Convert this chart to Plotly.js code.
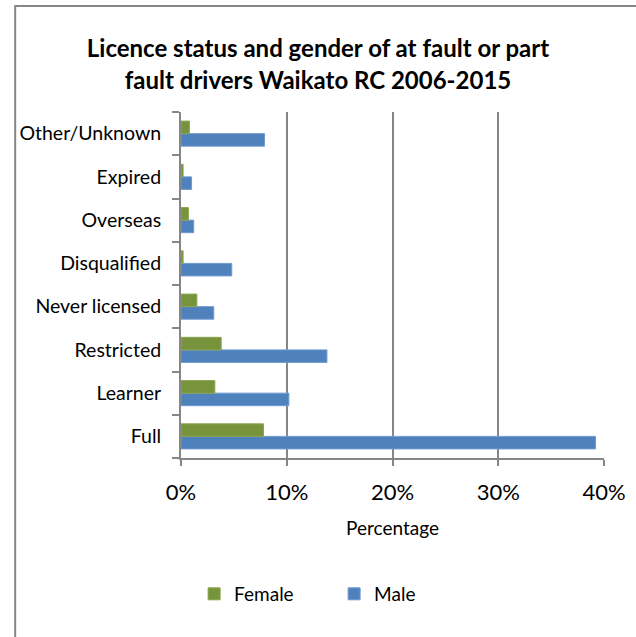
<!DOCTYPE html>
<html>
<head>
<meta charset="utf-8">
<script src="https://cdn.plot.ly/plotly-3.0.1.min.js"></script>
<style>html,body{margin:0;padding:0;background:#fff;}#chart{width:636px;height:637px;}</style>
</head>
<body>
<div id="chart"></div>
<script>
const categories = ["Full", "Learner", "Restricted", "Never licensed", "Disqualified", "Overseas", "Expired", "Other/Unknown"];
const femaleValues = [7.8, 3.2, 3.8, 1.5, 0.2, 0.7, 0.2, 0.8];
const maleValues = [39.2, 10.2, 13.8, 3.1, 4.8, 1.2, 1.0, 7.9];
const xTickVals = [0, 10, 20, 30, 40];
const xTickText = ["0%", "10%", "20%", "30%", "40%"];

const font = "Lato, 'Open Sans', sans-serif";
const grey = "#868686";

const traces = [
  {type: "bar", orientation: "h", name: "Male", y: categories, x: maleValues,
   marker: {color: "#4F81BD", line: {color: "#6f9ad0", width: 1}}, hoverinfo: "x+y"},
  {type: "bar", orientation: "h", name: "Female", y: categories, x: femaleValues,
   marker: {color: "#77933C", line: {color: "#8aa64f", width: 1}}, hoverinfo: "x+y"}
];

const layout = {
  width: 636, height: 637,
  margin: {l: 181, r: 32, t: 112, b: 179},
  paper_bgcolor: "#fff", plot_bgcolor: "#fff",
  font: {family: font, color: "#000"},
  title: {text: "<b>Licence status and gender of at fault or part<br>fault drivers Waikato RC 2006-2015</b>",
          font: {family: font, size: 24, color: "#000"}, x: 0.5, xanchor: "center", y: 0.910, yanchor: "top"},
  barmode: "group", bargap: 0.42, bargroupgap: 0,
  xaxis: {range: [0, 40], tickvals: xTickVals, ticktext: xTickText,
          showgrid: true, gridcolor: grey, gridwidth: 2,
          showline: true, linecolor: grey, linewidth: 2,
          ticks: "outside", ticklen: 6, tickcolor: grey, tickwidth: 2,
          tickfont: {family: font, size: 22, color: "#000"}, ticklabelstandoff: 8,
          zeroline: false, fixedrange: true,
          title: {text: "Percentage", font: {family: font, size: 19, color: "#000"}, standoff: 17}},
  yaxis: {showline: true, linecolor: grey, linewidth: 2,
          ticks: "outside", ticklen: 7, tickcolor: grey, tickwidth: 2, tickson: "boundaries",
          tickfont: {family: font, size: 19.5, color: "#000"}, showgrid: false, fixedrange: true,
          ticklabelstandoff: 14},
  legend: {orientation: "h", x: 0.031, xanchor: "left", y: -0.393, yanchor: "middle",
           traceorder: "reversed", font: {family: font, size: 19, color: "#000"},
           entrywidth: 95, entrywidthmode: "pixels"},
  shapes: [{type: "rect", xref: "paper", yref: "paper", x0: -0.392, x1: 1.2, y0: 1.306, y1: -0.6,
            line: {color: grey, width: 2}, fillcolor: "rgba(0,0,0,0)", layer: "below"}],
  showlegend: true
};

Plotly.newPlot("chart", traces, layout, {displayModeBar: false, staticPlot: true});
</script>
</body>
</html>
